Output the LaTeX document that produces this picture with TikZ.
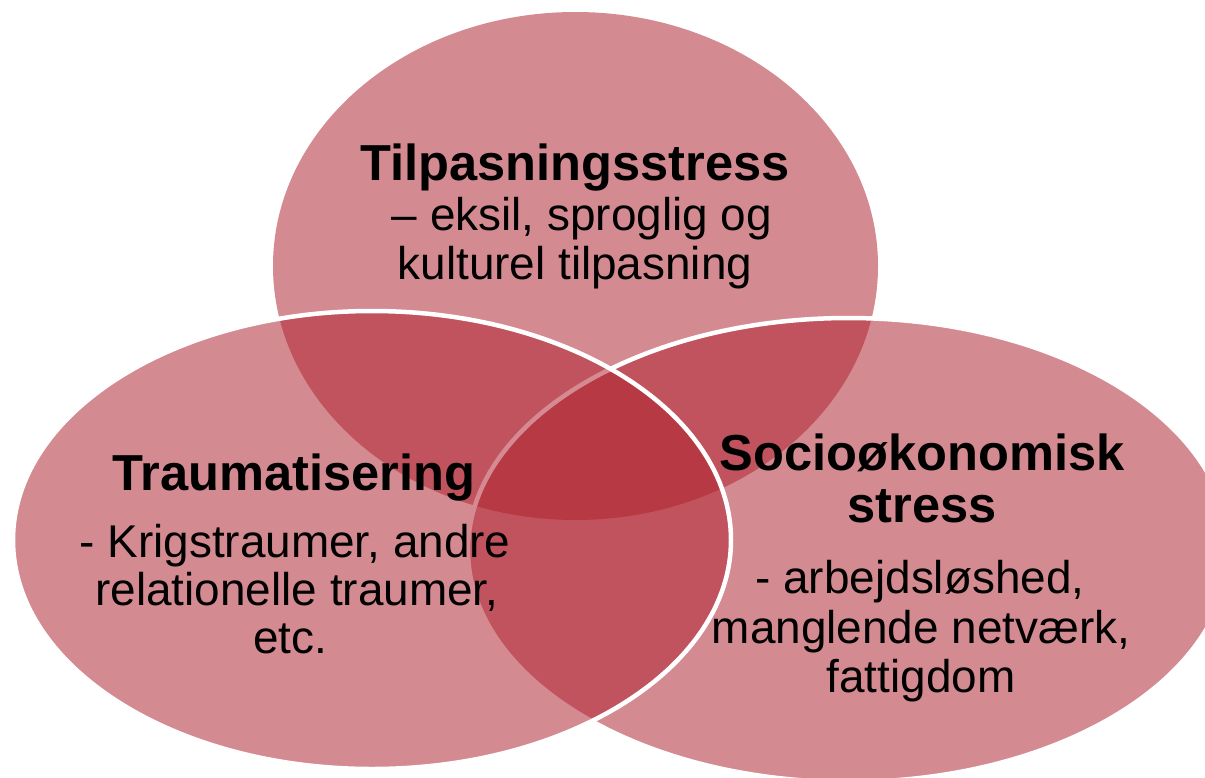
\documentclass[tikz,border=0pt]{standalone}
\usepackage{fontspec}
\setmainfont{Liberation Sans}
\definecolor{venn}{RGB}{174,34,47}
\begin{document}
\begin{tikzpicture}[x=1pt,y=-1pt,
  vennbox/.style={fill=venn, fill opacity=0.53},
  vennrim/.style={draw=white, line width=4.5pt},
  head/.style={font=\fontsize{50.6}{53}\selectfont\bfseries, anchor=base, inner sep=0pt, text=black},
  body/.style={font=\fontsize{45.9}{49}\selectfont, anchor=base, inner sep=0pt, text=black}]
\useasboundingbox (0,0) rectangle (1205,777);
\clip (0,0) rectangle (1205,777);
% ellipses: top, right, left (left on top)
\path[vennbox] (575.5,266) ellipse [x radius=302.5pt, y radius=254pt];
\path[vennbox, vennrim] (848.6,550) ellipse [x radius=380.6pt, y radius=232pt];
\path[vennbox, vennrim] (372,540) ellipse [x radius=359pt, y radius=229pt];
% top text
\node[head] (t1) at (575,180) {Tilpasningsstress};
\node[body] (t2) at (582,230) {– eksil, sproglig og};
\node[body] (t3) at (575,279) {kulturel tilpasning};
% left text
\node[head] (l1) at (294,490) {Traumatisering};
\node[body] (l2) at (295,557) {- Krigstraumer, andre};
\node[body] (l3) at (297,605) {relationelle traumer,};
\node[body] (l4) at (290,653) {etc.};
% right text
\node[head] (r1) at (922,470) {Socioøkonomisk};
\node[head] (r2) at (922,522) {stress};
\node[body] (r3) at (920,593) {- arbejdsløshed,};
\node[body] (r4) at (921,643) {manglende netværk,};
\node[body] (r5) at (921,692) {fattigdom};
\end{tikzpicture}
\end{document}
